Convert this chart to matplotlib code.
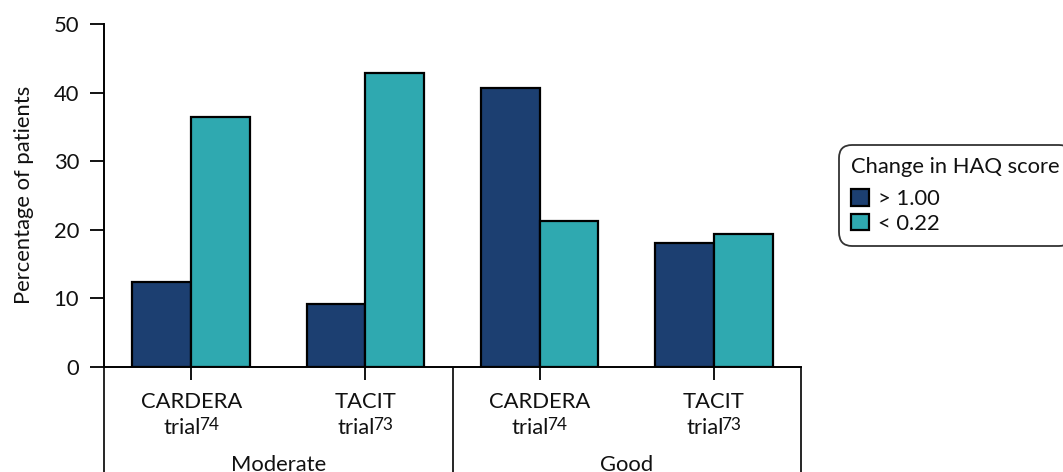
import matplotlib
matplotlib.use("Agg")
import matplotlib.pyplot as plt
from matplotlib.transforms import offset_copy
import numpy as np

# ---- data ----
trials = ["CARDERA", "TACIT", "CARDERA", "TACIT"]
trial_refs = ["74", "73", "74", "73"]
groups = ["Moderate", "Good"]
series_labels = ["> 1.00", "< 0.22"]
haq_gt_100 = [12.3, 9.2, 40.7, 18.0]
haq_lt_022 = [36.4, 42.9, 21.3, 19.4]
y_ticks = [0, 10, 20, 30, 40, 50]
legend_title = "Change in HAQ score"
y_label = "Percentage of patients"

# ---- style ----
plt.rcParams['font.family'] = ['Lato', 'DejaVu Sans']
FS = 15.8
SUP_FS = 12.4
TXT = '#111111'
C_DARK = '#1c3f71'
C_TEAL = '#2fa9b0'

W, H = 1063, 472
fig = plt.figure(figsize=(W / 100, H / 100), dpi=100)
ax_l, ax_r = 104 / W, 801 / W
ax_b, ax_t = 1 - 366.7 / H, 1 - 24 / H
ax = fig.add_axes([ax_l, ax_b, ax_r - ax_l, ax_t - ax_b])

x = np.arange(len(trials))
bw = 0.337
b1 = ax.bar(x - bw / 2, haq_gt_100, bw, color=C_DARK, edgecolor='black',
            linewidth=1.6, label=series_labels[0], zorder=3)
b2 = ax.bar(x + bw / 2, haq_lt_022, bw, color=C_TEAL, edgecolor='black',
            linewidth=1.6, label=series_labels[1], zorder=3)

ax.set_xlim(-0.5, 3.5)
ax.set_ylim(0, 50)
ax.set_yticks(y_ticks)
ax.set_yticklabels([str(t) for t in y_ticks], fontsize=FS, color=TXT)
ax.set_xticks(x)
ax.set_xticklabels([''] * len(x))
ax.tick_params(axis='y', length=10, width=1.3, pad=7.9, colors='black', labelcolor=TXT)
ax.tick_params(axis='x', length=9.4, width=1.3, colors='black')
for s in ['top', 'right']:
    ax.spines[s].set_visible(False)
for s in ['left', 'bottom']:
    ax.spines[s].set_linewidth(1.4)
    ax.spines[s].set_color('black')

ax.set_ylabel(y_label, fontsize=FS, color=TXT, labelpad=14)

# category labels
tr = ax.get_xaxis_transform()
def ypix(p):
    return (366.7 - p) / 342.7

renderer = fig.canvas.get_renderer()
for i, (t, r) in enumerate(zip(trials, trial_refs)):
    ax.text(i, ypix(407.7), t, transform=tr, ha='center', va='baseline',
            fontsize=FS, color=TXT)
    # "trial" + superscript reference, centred as a group
    base = ax.text(i, ypix(434.3), 'trial', transform=tr, ha='left',
                   va='baseline', fontsize=FS, color=TXT)
    sup = ax.text(i, ypix(434.3), r, transform=tr, ha='left',
                  va='baseline', fontsize=SUP_FS, color=TXT)
    wb = base.get_window_extent(renderer).width
    ws = sup.get_window_extent(renderer).width
    gap = -2.0
    total = wb + gap + ws
    base.set_transform(offset_copy(tr, fig=fig, x=-total / 2, y=0, units='dots'))
    sup.set_transform(offset_copy(tr, fig=fig, x=-total / 2 + wb + gap, y=4.3,
                                  units='dots'))
for g, gname in enumerate(groups):
    ax.text(2 * g + 0.5, ypix(471.0), gname, transform=tr, ha='center',
            va='baseline', fontsize=FS, color=TXT)

# group separator lines below axis
for xv in [-0.5, 1.5, 3.5]:
    ax.plot([xv, xv], [0, -0.5], transform=tr, color='black', lw=1.2,
            clip_on=False, solid_capstyle='butt')

# legend
leg = fig.legend(handles=[b1, b2], labels=series_labels, title=legend_title,
                 loc='upper left', bbox_to_anchor=(839.3 / W, 1 - 145 / H),
                 bbox_transform=fig.transFigure, fontsize=FS, title_fontsize=FS,
                 frameon=True, fancybox=True, borderaxespad=0,
                 handlelength=0.82, handleheight=0.78, handletextpad=0.38,
                 labelspacing=0.2, borderpad=0.55, alignment='left')
leg._legend_box.sep = 0.55 * FS
frame = leg.get_frame()
frame.set_edgecolor('black')
frame.set_linewidth(1.3)
frame.set_boxstyle('round,pad=0,rounding_size=0.6')
for t in leg.get_texts():
    t.set_color(TXT)
leg.get_title().set_color(TXT)

fig.savefig('out.png', dpi=100)
